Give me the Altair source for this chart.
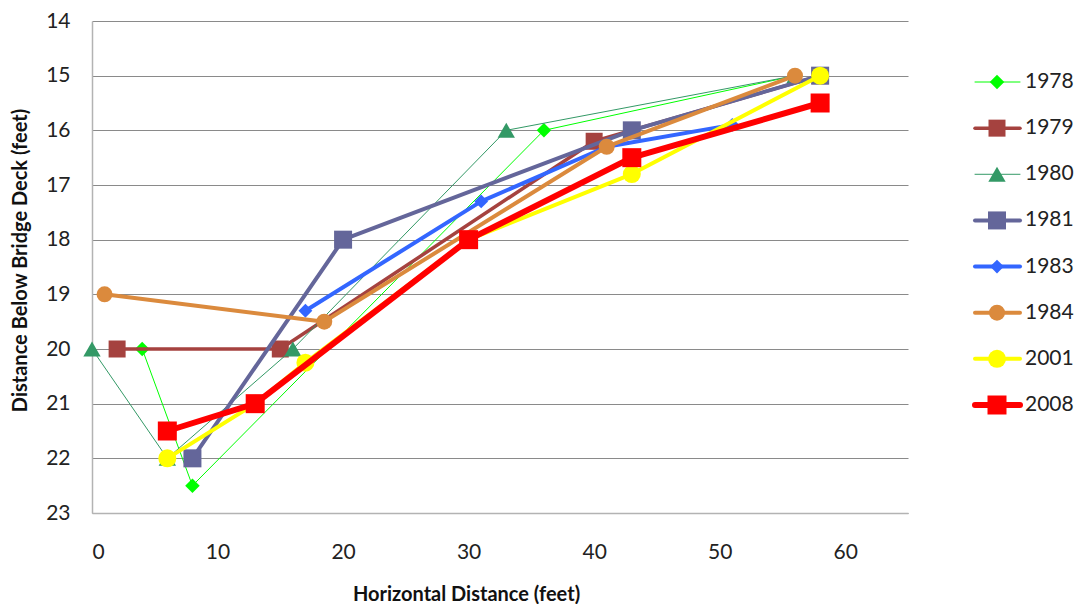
import altair as alt
import pandas as pd

years = ["1978", "1979", "1980", "1981", "1983", "1984", "2001", "2008"]
colors = ["#00FF00", "#A5423F", "#339966", "#64669A", "#3366FF", "#DB8A3D", "#FFFF00", "#FF0000"]
shapes = ["diamond", "square", "triangle-up", "square", "diamond", "circle", "circle", "square"]
marker_sizes = [210, 289, 300, 324, 190, 256, 324, 361]
line_widths = [1, 3.5, 1, 4, 4, 4, 4, 6]

x_1978 = [4, 8, 36, 56]
y_1978 = [20, 22.5, 16, 15]
x_1979 = [2, 15, 40, 58]
y_1979 = [20, 20, 16.2, 15]
x_1980 = [0, 6, 16, 33, 56]
y_1980 = [20, 22, 20, 16, 15]
x_1981 = [8, 20, 43, 58]
y_1981 = [22, 18, 16, 15]
x_1983 = [17, 31, 41, 51]
y_1983 = [19.3, 17.3, 16.3, 15.9]
x_1984 = [1, 18.5, 41, 56]
y_1984 = [19, 19.5, 16.3, 15]
x_2001 = [6, 13, 17, 30, 43, 58]
y_2001 = [22, 21, 20.25, 18, 16.8, 15]
x_2008 = [6, 13, 30, 43, 58]
y_2008 = [21.5, 21, 18, 16.5, 15.5]

series_x = [x_1978, x_1979, x_1980, x_1981, x_1983, x_1984, x_2001, x_2008]
series_y = [y_1978, y_1979, y_1980, y_1981, y_1983, y_1984, y_2001, y_2008]

x_ticks = [0, 10, 20, 30, 40, 50, 60]
y_ticks = list(range(14, 24))

FONT = "Lato"

color_scale = alt.Scale(domain=years, range=colors)
shape_scale = alt.Scale(domain=years, range=shapes)

x_enc = alt.X(
    "x:Q",
    scale=alt.Scale(domain=[0, 65], nice=False, zero=False),
    axis=alt.Axis(
        values=x_ticks, grid=False, ticks=False, domainColor="#b3b3b3", domainWidth=1.5,
        labelFont=FONT, labelFontSize=21, labelColor="#222222", labelPadding=28,
        title="Horizontal Distance (feet)", titleFont=FONT, titleFontSize=20,
        titleFontWeight="bold", titleColor="#111111", titleX=374, titleY=81,
        titleAlign="center", titleBaseline="middle", zindex=1,
    ),
)
y_enc = alt.Y(
    "y:Q",
    scale=alt.Scale(domain=[14, 23], reverse=True, nice=False, zero=False),
    axis=alt.Axis(
        values=y_ticks, grid=True, gridColor="#8a8a8a", gridWidth=1.2, ticks=False,
        domainColor="#b3b3b3", domainWidth=1.5,
        labelFont=FONT, labelFontSize=21, labelColor="#222222", labelPadding=22,
        title="Distance Below Bridge Deck (feet)", titleFont=FONT, titleFontSize=20,
        titleFontWeight="bold", titleColor="#111111", titleX=-72, titleY=239,
        titleAngle=270, titleAlign="center", titleBaseline="middle",
    ),
)

plot_layers = []
for yr, xs, ys, lw, ms in zip(years, series_x, series_y, line_widths, marker_sizes):
    df = pd.DataFrame({"x": xs, "y": ys, "year": [yr] * len(xs)})
    base = alt.Chart(df)
    line = base.mark_line(strokeJoin="round", strokeCap="round", strokeWidth=lw).encode(
        x=x_enc, y=y_enc,
        color=alt.Color("year:N", scale=color_scale, legend=None),
    )
    pts = base.mark_point(filled=True, opacity=1, size=ms).encode(
        x=x_enc, y=y_enc,
        color=alt.Color("year:N", scale=color_scale, legend=None),
        shape=alt.Shape("year:N", scale=shape_scale, legend=None),
    )
    plot_layers += [line, pts]

plot = alt.layer(*plot_layers)

leg_y = alt.Y("year:N", scale=alt.Scale(type="point", domain=years, range=[61, 384], padding=0), axis=None)
leg_layers = []
for yr, lw, ms in zip(years, line_widths, marker_sizes):
    lb = alt.Chart(pd.DataFrame({"year": [yr]}))
    leg_layers.append(lb.mark_rule(strokeCap="round", strokeWidth=lw).encode(
        x=alt.value(883), x2=alt.value(928), y=leg_y,
        color=alt.Color("year:N", scale=color_scale, legend=None),
    ))
    leg_layers.append(lb.mark_point(filled=True, opacity=1, size=ms).encode(
        x=alt.value(905), y=leg_y,
        color=alt.Color("year:N", scale=color_scale, legend=None),
        shape=alt.Shape("year:N", scale=shape_scale, legend=None),
    ))
leg_text = alt.Chart(pd.DataFrame({"year": years})).mark_text(
    align="left", baseline="middle", font=FONT, fontSize=21, color="#222222"
).encode(x=alt.value(933), y=leg_y, text="year:N")
legend = alt.layer(*leg_layers, leg_text)

chart = alt.layer(plot, legend).resolve_scale(y="independent").properties(
    width=816, height=492,
    autosize=alt.AutoSizeParams(type="none"),
    padding={"left": 84, "top": 13, "right": 167, "bottom": 91},
).configure_view(stroke=None)

chart.save("out.html", embed_options={"renderer": "svg", "actions": False})
